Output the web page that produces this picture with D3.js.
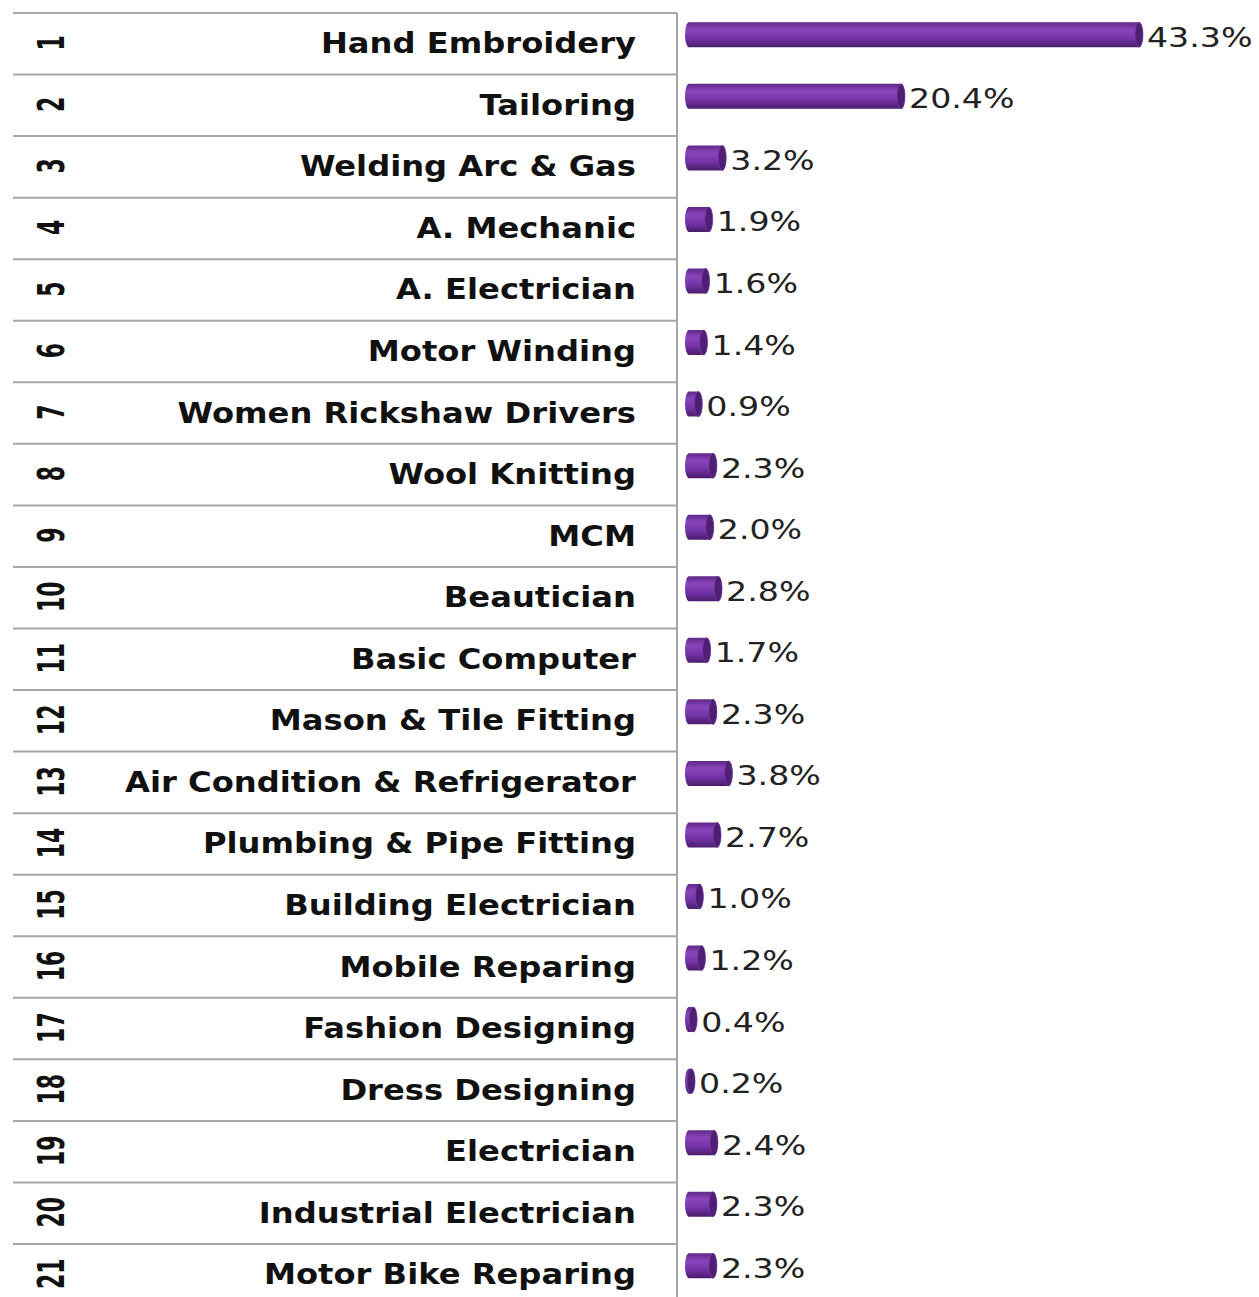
<!DOCTYPE html>
<html>
<head>
<meta charset="utf-8">
<script src="https://cdn.jsdelivr.net/npm/d3@7"></script>
<style>
  body { margin: 0; background: #fff; }
  svg { display: block; }
</style>
</head>
<body>
<svg id="svg-trades"></svg>
<script>
var width = 1259,
    height = 1297;

// chart data
var rowNumbers = d3.range(1, 22);
var trades = [
  "Hand Embroidery", "Tailoring", "Welding Arc & Gas", "A. Mechanic",
  "A. Electrician", "Motor Winding", "Women Rickshaw Drivers", "Wool Knitting",
  "MCM", "Beautician", "Basic Computer", "Mason & Tile Fitting",
  "Air Condition & Refrigerator", "Plumbing & Pipe Fitting", "Building Electrician",
  "Mobile Reparing", "Fashion Designing", "Dress Designing", "Electrician",
  "Industrial Electrician", "Motor Bike Reparing"
];
var shares = [43.3, 20.4, 3.2, 1.9, 1.6, 1.4, 0.9, 2.3, 2.0, 2.8, 1.7, 2.3,
              3.8, 2.7, 1.0, 1.2, 0.4, 0.2, 2.4, 2.3, 2.3];

var rows = rowNumbers.map(function(n, i) {
  return { n: n, trade: trades[i], share: shares[i] };
});

var svg = d3.select('#svg-trades')
  .attr('width', width)
  .attr('height', height);

var y = d3.scaleBand()
  .domain(rowNumbers)
  .range([13, 13 + 21 * 61.55])
  .padding(0);

var barStart = 689,
    capRx = 4,
    barH = 25;

var x = d3.scaleLinear()
  .domain([0, 43.3])
  .range([0, 450]);

var defs = svg.append('defs');
var grad = defs.append('linearGradient')
  .attr('id', 'barGrad')
  .attr('x1', 0).attr('y1', 0).attr('x2', 0).attr('y2', 1);
grad.append('stop').attr('offset', '0%').attr('stop-color', '#5f2788');
grad.append('stop').attr('offset', '30%').attr('stop-color', '#8a44bb');
grad.append('stop').attr('offset', '65%').attr('stop-color', '#7433a6');
grad.append('stop').attr('offset', '100%').attr('stop-color', '#4a1c6c');

// grid lines
svg.append('g')
  .attr('class', 'g-lines')
  .selectAll('line')
  .data(rowNumbers)
  .enter().append('line')
  .attr('x1', 13)
  .attr('x2', 677)
  .attr('y1', function(d) { return y(d); })
  .attr('y2', function(d) { return y(d); })
  .attr('stroke', '#a6a6a6')
  .attr('stroke-width', 2);

svg.append('line')
  .attr('x1', 677).attr('x2', 677)
  .attr('y1', y(1)).attr('y2', height)
  .attr('stroke', '#a6a6a6')
  .attr('stroke-width', 2);

// rotated row numbers
svg.append('g')
  .selectAll('text')
  .data(rows)
  .enter().append('text')
  .attr('transform', function(d) {
    return 'translate(51,' + (y(d.n) + y.bandwidth() / 2 - 1) + ') scale(1.7,1) rotate(-90)';
  })
  .attr('text-anchor', 'middle')
  .attr('dominant-baseline', 'central')
  .style('font-family', 'DejaVu Sans, Verdana, sans-serif')
  .style('font-weight', 'bold')
  .style('font-size', '22px')
  .attr('fill', '#111')
  .text(function(d) { return d.n; });

// trade labels
svg.append('g')
  .selectAll('text')
  .data(rows)
  .enter().append('text')
  .attr('transform', function(d) {
    return 'translate(636,' + (y(d.n) + y.bandwidth() / 2 + 9.5) + ') scale(1.13,1)';
  })
  .attr('text-anchor', 'end')
  .style('font-family', 'DejaVu Sans, Verdana, sans-serif')
  .style('font-weight', 'bold')
  .style('font-size', '28.5px')
  .attr('fill', '#111')
  .text(function(d) { return d.trade; });

// cylinder bars
var bars = svg.append('g')
  .attr('class', 'g-bars')
  .selectAll('g')
  .data(rows)
  .enter().append('g')
  .attr('transform', function(d) {
    return 'translate(0,' + (y(d.n) + y.bandwidth() / 2 - 9) + ')';
  });

bars.append('path')
  .attr('d', function(d) {
    var w = x(d.share), r = barH / 2;
    return 'M' + barStart + ',' + (-r) +
      'L' + (barStart + w) + ',' + (-r) +
      'A' + capRx + ',' + r + ' 0 0 1 ' + (barStart + w) + ',' + r +
      'L' + barStart + ',' + r +
      'A' + capRx + ',' + r + ' 0 0 1 ' + barStart + ',' + (-r) + 'Z';
  })
  .attr('fill', 'url(#barGrad)');

bars.append('ellipse')
  .attr('cx', function(d) { return barStart + x(d.share); })
  .attr('cy', 0)
  .attr('rx', capRx)
  .attr('ry', barH / 2)
  .attr('fill', '#4e1f74')
  .attr('stroke', '#7a45a4')
  .attr('stroke-width', 0.6);

// value labels
bars.append('text')
  .attr('transform', function(d) {
    return 'translate(' + (barStart + x(d.share) + capRx + 4) + ',12) scale(1.23,1)';
  })
  .style('font-family', 'DejaVu Sans, Verdana, sans-serif')
  .style('font-size', '27px')
  .attr('fill', '#222')
  .text(function(d) { return d.share.toFixed(1) + '%'; });
</script>
</body>
</html>
